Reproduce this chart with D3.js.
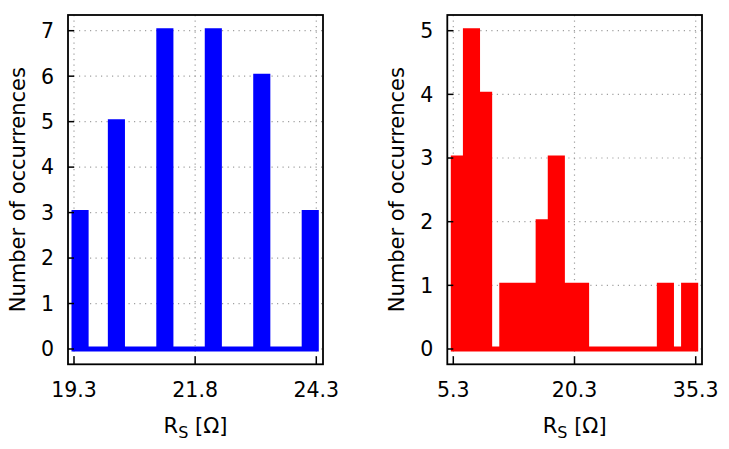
<!DOCTYPE html>
<html>
<head>
<meta charset="utf-8">
<script src="https://cdn.jsdelivr.net/npm/d3@7"></script>
<style>
  body { margin: 0; background: #fff; }
  text { font-family: "DejaVu Sans", sans-serif; fill: #000; }
</style>
</head>
<body>
<script>
// histogram data (counts per bin)
const leftStart = 19.3, leftBinWidth = 0.25;
const leftCounts = [3,0,0,5,0,0,0,7,0,0,0,7,0,0,0,6,0,0,0,3];
const leftXTicks = [19.3, 21.8, 24.3];
const leftYTicks = [0,1,2,3,4,5,6,7];

const rightStart = 5.3, rightBinWidth = 1.5;
const rightCounts = [3,5,4,0,1,1,1,2,3,1,1,0,0,0,0,0,0,1,0,1];
const rightXTicks = [5.3, 20.3, 35.3];
const rightYTicks = [0,1,2,3,4,5];

const W = 729, H = 449;
const svg = d3.select("body").append("svg").attr("width", W).attr("height", H);

let drawPanel = (opt) => {
    const g = svg.append("g");
    const x = d3.scaleLinear().domain(opt.xDom).range(opt.xRange);
    const y = d3.scaleLinear().domain(opt.yDom).range(opt.yRange);
    const f = opt.frame;

    // grid
    g.selectAll(".hgrid").data(opt.yTicks).enter().append("line")
        .attr("x1", f[0]).attr("x2", f[1])
        .attr("y1", d => y(d)).attr("y2", d => y(d))
        .attr("stroke", "#a0a0a0").attr("stroke-width", 1.2)
        .attr("stroke-dasharray", "1.2,4.3");
    g.selectAll(".vgrid").data(opt.xTicks).enter().append("line")
        .attr("x1", d => x(d)).attr("x2", d => x(d))
        .attr("y1", f[2]).attr("y2", f[3])
        .attr("stroke", "#a0a0a0").attr("stroke-width", 1.2)
        .attr("stroke-dasharray", "1.2,4.3");

    // histogram as filled steps
    let pts = opt.counts.map((c, i) => ({x: opt.start + i * opt.bw, c: c}));
    pts.push({x: opt.start + opt.counts.length * opt.bw, c: opt.counts[opt.counts.length - 1]});
    const area = d3.area().curve(d3.curveStepAfter)
        .x(d => x(d.x)).y0(y(0)).y1(d => y(d.c));
    g.append("path").datum(pts).attr("d", area)
        .attr("fill", opt.color).attr("stroke", opt.color)
        .attr("stroke-width", 5).attr("stroke-linejoin", "miter");

    // frame
    g.append("rect").attr("x", f[0]).attr("y", f[2])
        .attr("width", f[1] - f[0]).attr("height", f[3] - f[2])
        .attr("fill", "none").attr("stroke", "#000").attr("stroke-width", 1.8);

    // ticks
    g.selectAll(".yt").data(opt.yTicks).enter().append("line")
        .attr("x1", f[0]).attr("x2", f[0] + 6)
        .attr("y1", d => y(d)).attr("y2", d => y(d))
        .attr("stroke", "#000").attr("stroke-width", 1.5);
    g.selectAll(".xt").data(opt.xTicks).enter().append("line")
        .attr("x1", d => x(d)).attr("x2", d => x(d))
        .attr("y1", f[3]).attr("y2", f[3] - 8)
        .attr("stroke", "#000").attr("stroke-width", 1.5);

    // tick labels
    g.selectAll(".yl").data(opt.yTicks).enter().append("text")
        .attr("x", f[0] - 14).attr("y", d => y(d)).attr("dy", "0.36em")
        .attr("text-anchor", "end").style("font-size", "20.5px")
        .text(d => d);
    g.selectAll(".xl").data(opt.xTicks).enter().append("text")
        .attr("x", d => x(d)).attr("y", 397)
        .attr("text-anchor", "middle").style("font-size", "20.5px")
        .text(d => d.toFixed(1));

    // axis labels
    const cx = (f[0] + f[1]) / 2, cy = (f[2] + f[3]) / 2;
    g.append("text")
        .attr("transform", "translate(" + opt.ylabX + "," + cy + ") rotate(-90)")
        .attr("text-anchor", "middle").style("font-size", "21px")
        .text("Number of occurrences");
    const xl = g.append("text").attr("x", cx).attr("y", 433)
        .attr("text-anchor", "middle").style("font-size", "21px");
    xl.append("tspan").text("R");
    xl.append("tspan").attr("dy", 5).style("font-size", "16px").text("S");
    xl.append("tspan").attr("dy", -5).text(" [Ω]");
}

drawPanel({
    xDom: [19.3, 24.3], xRange: [74, 316.3],
    yDom: [0, 7], yRange: [349, 30.7],
    frame: [68, 323, 15, 364.3],
    xTicks: leftXTicks, yTicks: leftYTicks,
    start: leftStart, bw: leftBinWidth, counts: leftCounts,
    color: "#0000ff", ylabX: 25
});

drawPanel({
    xDom: [5.3, 35.3], xRange: [453.3, 695.7],
    yDom: [0, 5], yRange: [349, 30.7],
    frame: [447.3, 702, 15, 364.3],
    xTicks: rightXTicks, yTicks: rightYTicks,
    start: rightStart, bw: rightBinWidth, counts: rightCounts,
    color: "#ff0000", ylabX: 404
});
</script>
</body>
</html>
